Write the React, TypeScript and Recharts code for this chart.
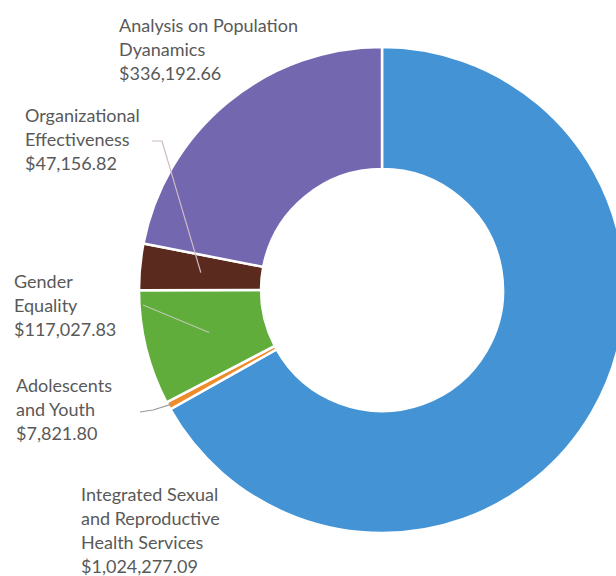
import React from "react";
import { PieChart, Pie, Cell } from "recharts";

const categories = [
  "Integrated Sexual and Reproductive Health Services",
  "Adolescents and Youth",
  "Gender Equality",
  "Organizational Effectiveness",
  "Analysis on Population Dyanamics",
];
const values = [1024277.09, 7821.8, 117027.83, 47156.82, 336192.66];
const valueLabels = ["$1,024,277.09", "$7,821.80", "$117,027.83", "$47,156.82", "$336,192.66"];
const labelLines = [
  ["Integrated Sexual", "and Reproductive", "Health Services"],
  ["Adolescents", "and Youth"],
  ["Gender", "Equality"],
  ["Organizational", "Effectiveness"],
  ["Analysis on Population", "Dyanamics"],
];

const colors = ["#4393D5", "#EE8B2B", "#61AD3B", "#5B2A1F", "#7367AF"];

// layout of labels (svg coords): left x, first baseline, leader line points, leader radius
const labelLayout = [
  { x: 81, y: 501, leader: null as null | number[][], r: 0, stroke: "" },
  { x: 16, y: 392, leader: [[140, 412], [153, 410]], r: -3, stroke: "#9A9A9A" },
  { x: 14, y: 288, leader: [[143, 305]], r: 178, stroke: "#B9C9B0" },
  { x: 25, y: 122, leader: [[152, 141], [162, 141]], r: 182, stroke: "#CDBBC6" },
  { x: 119, y: 32, leader: null, r: 0, stroke: "" },
];

const data = categories.map((name, i) => ({ name, value: values[i] }));

const RAD = Math.PI / 180;

const renderLabel = (props: any) => {
  const { cx, cy, midAngle, outerRadius, index } = props;
  const lay = labelLayout[index];
  const lines = [...labelLines[index], valueLabels[index]];
  let leader = null;
  if (lay.leader) {
    const r = lay.r < 0 ? outerRadius + lay.r : lay.r;
    const ex = cx + r * Math.cos(-midAngle * RAD);
    const ey = cy + r * Math.sin(-midAngle * RAD);
    const pts = [...lay.leader, [ex, ey]].map((p) => p.join(",")).join(" ");
    leader = <polyline points={pts} fill="none" stroke={lay.stroke} strokeWidth={1.2} />;
  }
  return (
    <g key={`lbl-${index}`}>
      {leader}
      <text
        x={lay.x}
        y={lay.y}
        fill="#595959"
        fontFamily="Lato, 'Open Sans', sans-serif"
        fontSize={18}
        textAnchor="start"
      >
        {lines.map((t, i) => (
          <tspan key={i} x={lay.x} dy={i === 0 ? 0 : 24}>
            {t}
          </tspan>
        ))}
      </text>
    </g>
  );
};

export default function App() {
  return (
    <div style={{ position: "absolute", left: 0, top: 0, width: 616, height: 576, overflow: "hidden" }}>
      <PieChart width={616} height={576} margin={{ top: 0, right: 0, bottom: 0, left: 0 }}>
        <Pie
          data={data}
          dataKey="value"
          nameKey="name"
          cx={382}
          cy={290}
          innerRadius={121}
          outerRadius={243}
          startAngle={90}
          endAngle={-270}
          stroke="#FFFFFF"
          strokeWidth={2.5}
          label={renderLabel}
          labelLine={false}
          isAnimationActive={false}
        >
          {data.map((d, i) => (
            <Cell key={d.name} fill={colors[i]} />
          ))}
        </Pie>
      </PieChart>
    </div>
  );
}
